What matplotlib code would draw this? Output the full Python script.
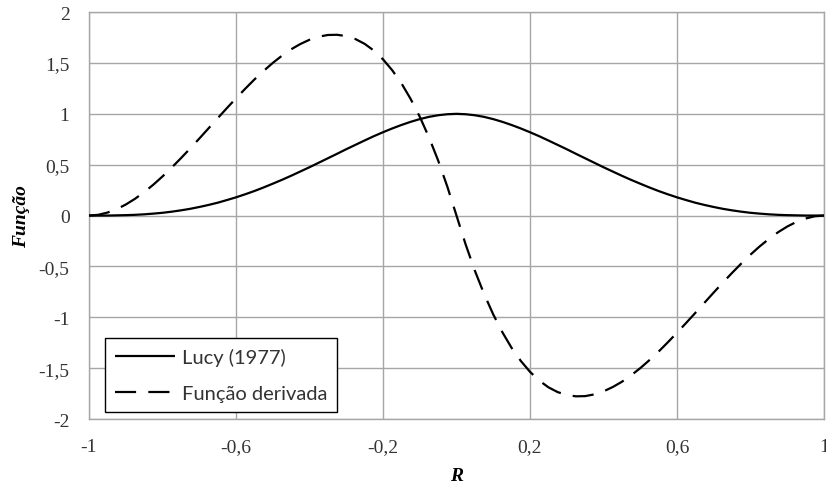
import matplotlib
matplotlib.use("Agg")
import matplotlib.pyplot as plt
from matplotlib.ticker import FuncFormatter

# Sample positions along R
r_values = [-1.000, -0.975, -0.950, -0.925, -0.900, -0.875, -0.850, -0.825, -0.800, -0.775,
            -0.750, -0.725, -0.700, -0.675, -0.650, -0.625, -0.600, -0.575, -0.550, -0.525,
            -0.500, -0.475, -0.450, -0.425, -0.400, -0.375, -0.350, -0.325, -0.300, -0.275,
            -0.250, -0.225, -0.200, -0.175, -0.150, -0.125, -0.100, -0.075, -0.050, -0.025,
            0.000,
            0.025, 0.050, 0.075, 0.100, 0.125, 0.150, 0.175, 0.200, 0.225, 0.250,
            0.275, 0.300, 0.325, 0.350, 0.375, 0.400, 0.425, 0.450, 0.475, 0.500,
            0.525, 0.550, 0.575, 0.600, 0.625, 0.650, 0.675, 0.700, 0.725, 0.750,
            0.775, 0.800, 0.825, 0.850, 0.875, 0.900, 0.925, 0.950, 0.975, 1.000]

# Lucy (1977) kernel values
lucy_values = [0.000, 0.000, 0.000, 0.002, 0.004, 0.007, 0.012, 0.019, 0.027, 0.038,
               0.051, 0.066, 0.084, 0.104, 0.126, 0.152, 0.179, 0.209, 0.241, 0.276,
               0.313, 0.351, 0.391, 0.433, 0.475, 0.519, 0.563, 0.607, 0.652, 0.695,
               0.738, 0.780, 0.819, 0.856, 0.890, 0.921, 0.948, 0.970, 0.986, 0.996,
               1.000,
               0.996, 0.986, 0.970, 0.948, 0.921, 0.890, 0.856, 0.819, 0.780, 0.738,
               0.695, 0.652, 0.607, 0.563, 0.519, 0.475, 0.433, 0.391, 0.351, 0.313,
               0.276, 0.241, 0.209, 0.179, 0.152, 0.126, 0.104, 0.084, 0.066, 0.051,
               0.038, 0.027, 0.019, 0.012, 0.007, 0.004, 0.002, 0.000, 0.000, 0.000]

# Derivative of the kernel
deriv_values = [0.000, 0.007, 0.029, 0.062, 0.108, 0.164, 0.230, 0.303, 0.384, 0.471,
                0.563, 0.658, 0.756, 0.856, 0.956, 1.055, 1.152, 1.246, 1.337, 1.421,
                1.500, 1.571, 1.634, 1.686, 1.728, 1.758, 1.775, 1.777, 1.764, 1.735,
                1.688, 1.622, 1.536, 1.429, 1.301, 1.148, 0.972, 0.770, 0.542, 0.285,
                0.000,
                -0.285, -0.542, -0.770, -0.972, -1.148, -1.301, -1.429, -1.536, -1.622, -1.688,
                -1.735, -1.764, -1.777, -1.775, -1.758, -1.728, -1.686, -1.634, -1.571, -1.500,
                -1.421, -1.337, -1.246, -1.152, -1.055, -0.956, -0.856, -0.756, -0.658, -0.563,
                -0.471, -0.384, -0.303, -0.230, -0.164, -0.108, -0.062, -0.029, -0.007, 0.000]

x_ticks = [-1, -0.6, -0.2, 0.2, 0.6, 1]
y_ticks = [-2, -1.5, -1, -0.5, 0, 0.5, 1, 1.5, 2]
series_labels = ["Lucy (1977)", "Função derivada"]

fig = plt.figure(figsize=(8.26, 4.85), dpi=100)
ax = fig.add_axes([0.1077, 0.134, 0.8899, 0.839])

ax.plot(r_values, lucy_values, color="black", lw=1.6, label=series_labels[0],
        solid_capstyle="butt", zorder=3)
ax.plot(r_values, deriv_values, color="black", lw=1.6, dashes=(9.5, 5.5),
        label=series_labels[1], zorder=3)

ax.set_xlim(-1, 1)
ax.set_ylim(-2, 2)
ax.set_xticks(x_ticks)
ax.set_yticks(y_ticks)

def comma_fmt(v, pos):
    s = f"{v:g}"
    return s.replace(".", ",")

ax.xaxis.set_major_formatter(FuncFormatter(comma_fmt))
ax.yaxis.set_major_formatter(FuncFormatter(comma_fmt))

grid_color = "#a6a6a6"
ax.grid(True, color=grid_color, lw=1.0, zorder=0)
for sp in ax.spines.values():
    sp.set_color(grid_color)
    sp.set_linewidth(1.0)
ax.tick_params(length=0, pad=14)
for lab in ax.get_xticklabels() + ax.get_yticklabels():
    lab.set_fontfamily("Liberation Serif")
    lab.set_fontsize(14)
    lab.set_color("#333333")

ax.set_xlabel("R", fontfamily="Liberation Serif", fontsize=14, fontweight="bold",
              fontstyle="italic", labelpad=8)
ax.set_ylabel("Função", fontfamily="Liberation Serif", fontsize=14, fontweight="bold",
              fontstyle="italic", labelpad=6)

leg = ax.legend(loc="lower left", bbox_to_anchor=(0.0218, 0.017), borderaxespad=0,
                fancybox=False, framealpha=1, edgecolor="black", borderpad=0.5,
                labelspacing=0.95, handlelength=3.0, handletextpad=0.3,
                prop={"family": "Lato", "size": 14.5})
leg.get_frame().set_linewidth(1.0)
for t in leg.get_texts():
    t.set_color("#333333")

fig.savefig("out.png", dpi=100)
